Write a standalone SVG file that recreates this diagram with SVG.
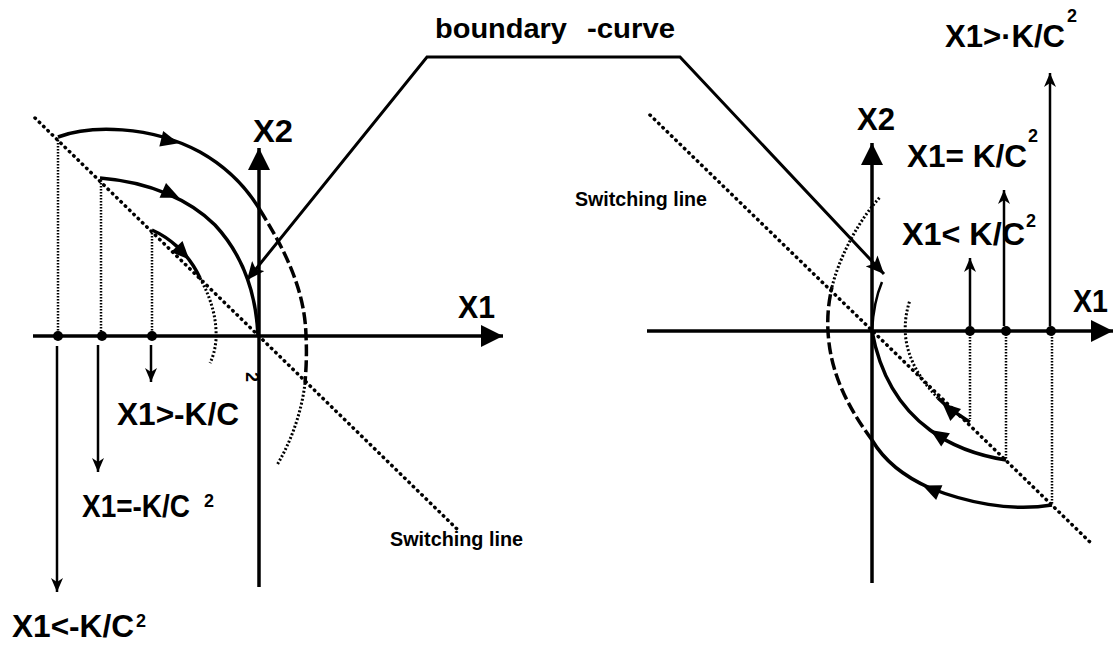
<svg xmlns="http://www.w3.org/2000/svg" xmlns:xlink="http://www.w3.org/1999/xlink" width="1115" height="648" viewBox="0 0 1115 648">
<style>
.ax{stroke:#000;stroke-width:3.5;fill:none}
.traj{stroke:#000;stroke-width:3.5;fill:none}
.dash{stroke:#000;stroke-width:3.5;fill:none;stroke-dasharray:12 4}
.dotc{stroke:#000;stroke-width:3;fill:none;stroke-dasharray:2 2}
.swl{stroke:#000;stroke-width:3.5;fill:none;stroke-dasharray:0.5 5.5;stroke-linecap:round}
.vd{stroke:#000;stroke-width:2.5;fill:none;stroke-dasharray:1.5 1.5}
.ar{stroke:#000;stroke-width:2.5;fill:none}
.con{stroke:#000;stroke-width:3;fill:none}
.dot{fill:#000}
.t{font-family:"Liberation Sans",Arial,sans-serif;font-weight:bold;fill:#000}
.big{font-size:32px}
.sup{font-size:18px}
.sm{font-size:20px}
</style>
<defs>
<marker id="axh" markerUnits="userSpaceOnUse" markerWidth="24" markerHeight="24" refX="22" refY="12" orient="auto"><path d="M0,1 L22,12 L0,23 Z" fill="#000"/></marker>
<marker id="thin" markerUnits="userSpaceOnUse" markerWidth="16" markerHeight="12" refX="14" refY="6" orient="auto"><path d="M0,0 L14,6 L0,12 L4,6 Z" fill="#000"/></marker>
<marker id="bh" markerUnits="userSpaceOnUse" markerWidth="20" markerHeight="16" refX="18" refY="8" orient="auto-start-reverse"><path d="M0,0 L18,8 L0,16 L4,8 Z" fill="#000"/></marker>
<path id="ta" d="M9,0 L-9,-8 L-9,8 Z" fill="#000"/>
</defs>

<g id="left-plane">
  <line class="ax" x1="33" y1="336" x2="503" y2="336" marker-end="url(#axh)"/>
  <line class="ax" x1="259" y1="587" x2="259" y2="148" marker-end="url(#axh)"/>
  <line class="swl" x1="35" y1="118" x2="457" y2="529"/>
  <path class="vd" d="M58,140 V336 M101,180 V336 M152,233 V336"/>
  <circle class="dot" cx="58" cy="336" r="5"/>
  <circle class="dot" cx="102" cy="336" r="5"/>
  <circle class="dot" cx="152" cy="336" r="5"/>
  <line class="ar" x1="57" y1="346" x2="57" y2="592" marker-end="url(#thin)"/>
  <line class="ar" x1="98" y1="345" x2="98" y2="472" marker-end="url(#thin)"/>
  <line class="ar" x1="151" y1="345" x2="151" y2="382" marker-end="url(#thin)"/>
  <path class="traj" d="M58,137 C90,125 150,125 200,152 C225,166 245,185 260,210"/>
  <path class="dash" d="M260,210 C285,250 305,290 306,336 C307,355 306,370 305,383"/>
  <path class="dotc" d="M305,383 C302,410 292,440 277,465"/>
  <path class="traj" d="M100,178 C150,182 190,200 215,225 C240,252 256,290 258,336"/>
  <path class="traj" d="M152,230 C168,237 188,252 200,278"/>
  <path class="dotc" d="M200,278 C212,300 217,320 216,340 C215,350 213,357 210,363"/>
  <use xlink:href="#ta" transform="translate(170,141) rotate(14)"/>
  <use xlink:href="#ta" transform="translate(171,194) rotate(24)"/>
  <use xlink:href="#ta" transform="translate(183,253) rotate(46)"/>
  <text class="t big" x="253" y="142" textLength="40" lengthAdjust="spacingAndGlyphs">X2</text>
  <text class="t big" x="458" y="318" textLength="37" lengthAdjust="spacingAndGlyphs">X1</text>
  <text class="t big" x="117" y="425" textLength="122" lengthAdjust="spacingAndGlyphs">X1&gt;-K/C</text>
  <text class="t sup" transform="translate(246,372) rotate(90)">2</text>
  <text class="t big" x="82" y="517" textLength="108" lengthAdjust="spacingAndGlyphs">X1=-K/C</text>
  <text class="t sup" x="204" y="507">2</text>
  <text class="t big" x="12" y="637" textLength="122" lengthAdjust="spacingAndGlyphs">X1&lt;-K/C</text>
  <text class="t sup" x="136" y="627">2</text>
  <text class="t sm" x="390" y="546" textLength="133" lengthAdjust="spacingAndGlyphs">Switching line</text>
</g>

<g id="right-plane">
  <line class="ax" x1="647" y1="331" x2="1113" y2="331" marker-end="url(#axh)"/>
  <line class="ax" x1="872" y1="583" x2="872" y2="143" marker-end="url(#axh)"/>
  <line class="swl" x1="650" y1="115" x2="1093" y2="545"/>
  <path class="vd" d="M970,331 V419 M1006,331 V460 M1052,331 V505"/>
  <line class="ar" x1="970" y1="326" x2="970" y2="258" marker-end="url(#thin)"/>
  <line class="ar" x1="1004" y1="326" x2="1004" y2="190" marker-end="url(#thin)"/>
  <line class="ar" x1="1050" y1="326" x2="1050" y2="73" marker-end="url(#thin)"/>
  <circle class="dot" cx="970" cy="331" r="5"/>
  <circle class="dot" cx="1006" cy="331" r="5"/>
  <circle class="dot" cx="1051" cy="331" r="5"/>
  <path class="traj" d="M1052,505 C1010,512 965,502 930,488 C905,477 885,462 872,440"/>
  <path class="dash" d="M872,440 C850,410 830,375 828,331 C827,315 829,300 832,287"/>
  <path class="dotc" d="M832,287 C838,262 855,225 880,197"/>
  <path class="traj" d="M1006,460 C975,455 950,445 930,430 C900,408 880,375 872,331"/>
  <path class="ar" d="M872,331 C873,312 876,296 882,282"/>
  <path class="traj" d="M970,422 C962,417 950,410 938,398"/>
  <path class="dotc" d="M938,398 C925,385 910,365 906,340 C904,325 906,312 910,300"/>
  <use xlink:href="#ta" transform="translate(931,489) rotate(203)"/>
  <use xlink:href="#ta" transform="translate(938,435) rotate(213)"/>
  <use xlink:href="#ta" transform="translate(949,409) rotate(222)"/>
  <text class="t big" x="857" y="130" textLength="38" lengthAdjust="spacingAndGlyphs">X2</text>
  <text class="t big" x="1073" y="312" textLength="35" lengthAdjust="spacingAndGlyphs">X1</text>
  <text class="t big" x="945" y="47" textLength="120" lengthAdjust="spacingAndGlyphs">X1&gt;·K/C</text>
  <text class="t sup" x="1067" y="22">2</text>
  <text class="t big" x="907" y="167" textLength="120" lengthAdjust="spacingAndGlyphs">X1= K/C</text>
  <text class="t sup" x="1028" y="142">2</text>
  <text class="t big" x="902" y="245" textLength="123" lengthAdjust="spacingAndGlyphs">X1&lt; K/C</text>
  <text class="t sup" x="1026" y="227">2</text>
  <text class="t sm" x="575" y="206" textLength="132" lengthAdjust="spacingAndGlyphs">Switching line</text>
</g>

<g id="connectors">
  <polyline class="con" points="247,280 427,57 680,57 884,274" marker-start="url(#bh)" marker-end="url(#bh)"/>
</g>

<g id="boundary-label">
  <text class="t" font-size="27" y="38"><tspan x="435" textLength="132" lengthAdjust="spacingAndGlyphs">boundary</tspan><tspan x="587" textLength="88" lengthAdjust="spacingAndGlyphs">-curve</tspan></text>
</g>
</svg>
